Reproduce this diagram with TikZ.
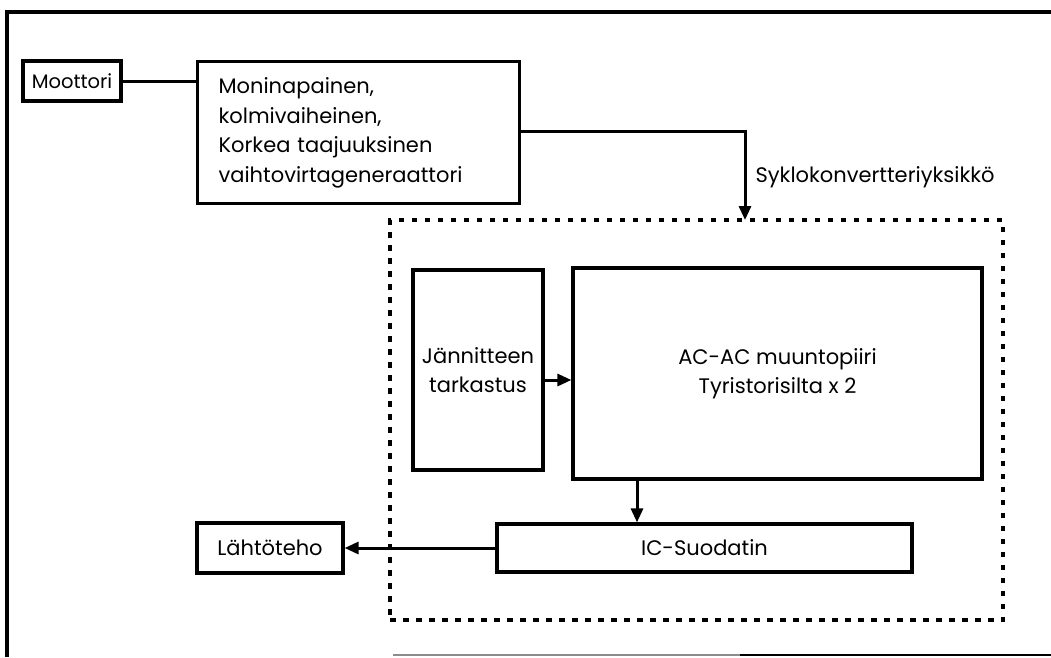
\documentclass[tikz,border=0pt]{standalone}
\usepackage{fontspec}
\setmainfont{Poppins}
\usetikzlibrary{arrows.meta,calc}
\tikzset{
  box/.style={draw, line width=3.2pt, inner sep=0pt, align=center},
  conn/.style={line width=3pt},
  arr/.style={line width=3pt, -{Triangle[length=14pt,width=12pt]}},
  dotbox/.style={draw, line width=3.4pt, dash pattern=on 5.5pt off 7.5pt, inner sep=0pt},
  frame/.style={line width=3.2pt},
  lbl/.style={font=\fontsize{21}{29.5}\selectfont},
  mlbl/.style={font=\fontsize{19.5}{24}\selectfont}
}
\begin{document}
\begin{tikzpicture}[x=1pt,y=-1pt]
\useasboundingbox (0,0) rectangle (1051,657);
% outer frame
\draw[frame] (7,657) -- (7,12) -- (1051,12);
\draw[line width=2pt, black!45] (393,655) -- (740,655);
\draw[line width=2.4pt] (740,655) -- (1051,655);

% nodes
\node[box, mlbl, minimum width=98pt, minimum height=40pt] (moot) at (72,81) {Moottori};
\node[box, lbl, anchor=north west, text width=280pt, inner xsep=21pt, minimum height=142pt, align=left] (gen) at (196,60)
  {Moninapainen,\\kolmivaiheinen,\\Korkea taajuuksinen\\vaihtovirtageneraattori};
\node[dotbox, minimum width=613pt, minimum height=400pt] (syk) at (696.5,420) {};
\node[lbl, anchor=west] (sykl) at (752,177) {Syklokonvertteriyksikkö};
\coordinate (sykin) at (745,220);
\node[box, lbl, minimum width=130pt, minimum height=200pt] (jan) at (478,370) {Jännitteen\\tarkastus};
\node[box, lbl, minimum width=409pt, minimum height=211pt] (ac) at (777.5,373.5) {AC-AC muuntopiiri\\Tyristorisilta x 2};
\node[box, lbl, minimum width=415pt, minimum height=48pt] (ic) at (704.5,548) {IC-Suodatin};
\node[box, lbl, minimum width=146pt, minimum height=50pt] (lah) at (270,548) {Lähtöteho};

% connectors
\draw[conn] (moot.east) -- (moot.east -| gen.west);
\draw[arr] (gen.east |- 0,131) -- (sykin |- 0,131) -- (sykin);
\draw[arr] ([yshift=-10pt]jan.east) -- ([yshift=-10pt]jan.east -| ac.west);
\draw[arr] ([xshift=-140.5pt]ac.south) -- ([xshift=-140.5pt]ac.south |- ic.north);
\draw[arr] (ic.west) -- (lah.east);
\end{tikzpicture}
\end{document}
